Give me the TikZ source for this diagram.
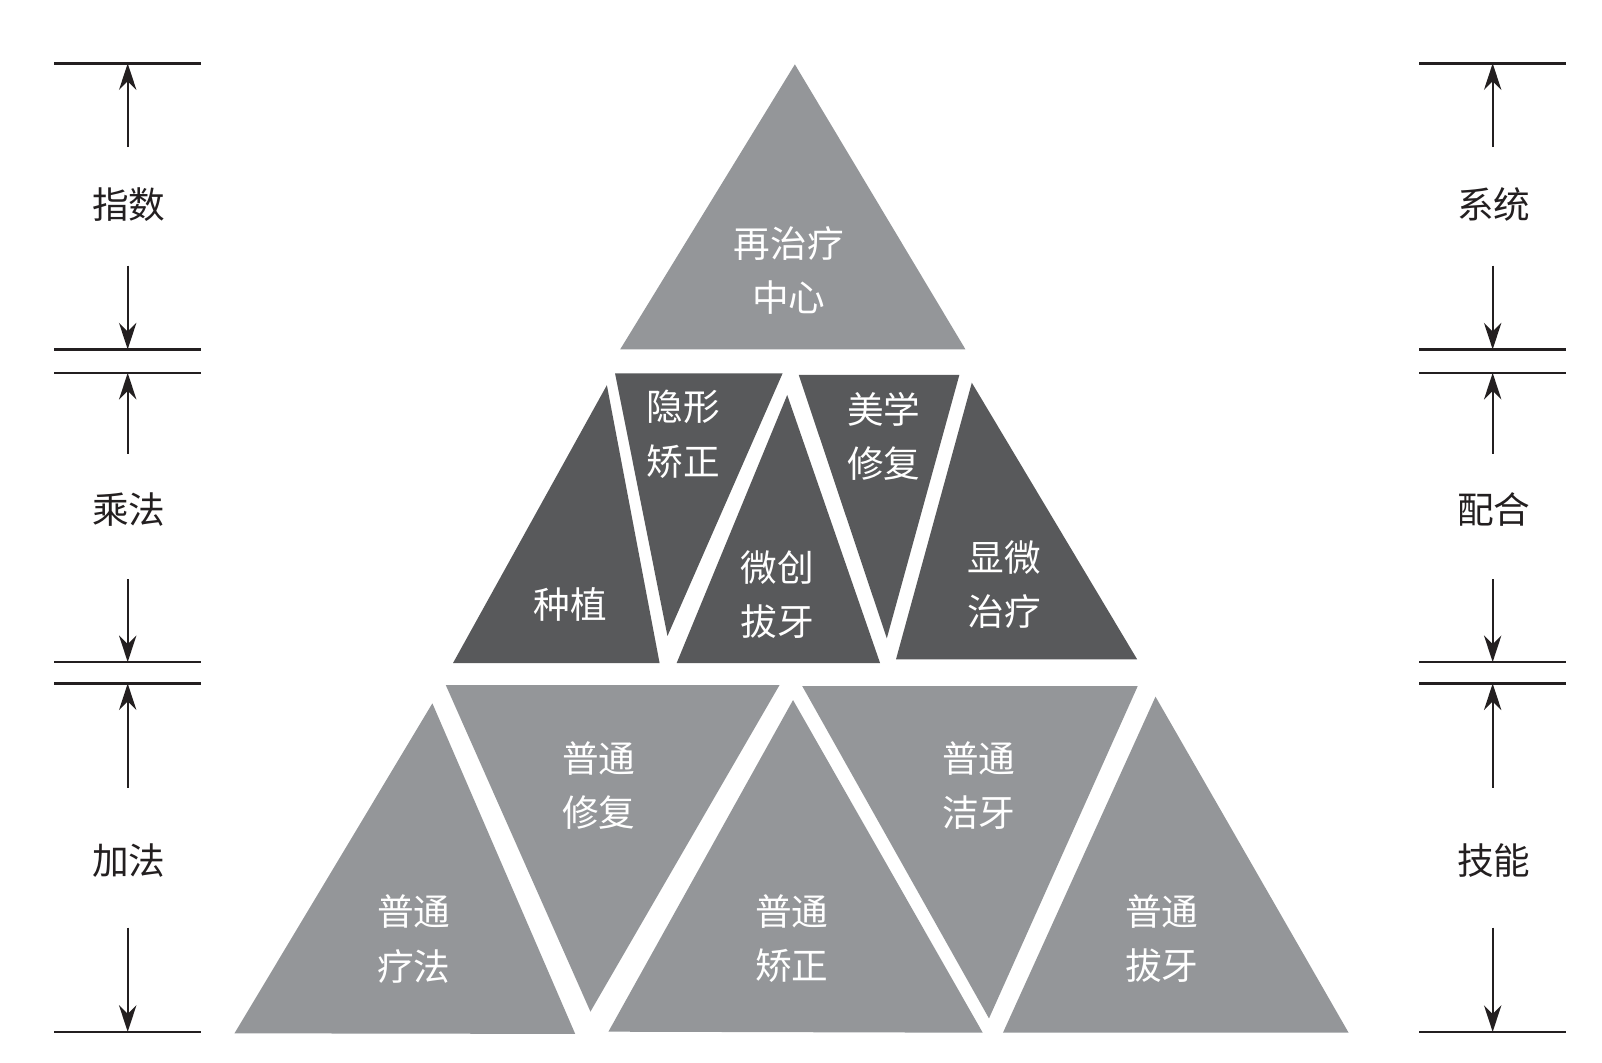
\documentclass[tikz,border=0pt]{standalone}
\usepackage{fontspec}
\setmainfont{Noto Sans CJK SC}
\usetikzlibrary{arrows.meta}
\definecolor{lightg}{RGB}{148,150,153}
\definecolor{darkg}{RGB}{88,89,91}
\definecolor{inkc}{RGB}{35,31,32}
\tikzset{
  lt/.style={fill=lightg},
  dk/.style={fill=darkg},
  lab/.style={text=white, align=center, inner sep=0pt, font=\fontsize{10.2pt}{15.1pt}\selectfont},
  side/.style={text=inkc, inner sep=0pt, font=\fontsize{10.2pt}{15.1pt}\selectfont},
  rule/.style={draw=inkc, line width=0.65pt},
  dim/.style={draw=inkc, line width=0.5pt, -{Stealth[length=0.26cm,width=0.17cm]}}
}
\begin{document}
\begin{tikzpicture}[x=0.01cm,y=-0.01cm]
\useasboundingbox (0,0) rectangle (1568,1040);
% top
\fill[lt] (778,63) -- (607,342) -- (945,342) -- cycle;
% middle row
\fill[dk] (594,377) -- (443.4,649) -- (645.6,649) -- cycle;
\fill[dk] (602,365.4) -- (766,365.4) -- (653.3,622.5) -- cycle;
\fill[dk] (770.5,386.6) -- (662.3,649) -- (861.4,649) -- cycle;
\fill[dk] (781.8,367) -- (939,367) -- (868,624.8) -- cycle;
\fill[dk] (951.2,374.6) -- (877,645.3) -- (1113,645.3) -- cycle;
% bottom row
\fill[lt] (423.2,688.4) -- (229.5,1011.4) -- (563,1012) -- cycle;
\fill[lt] (436.3,670.5) -- (763,670.5) -- (577.9,990.2) -- cycle;
\fill[lt] (776.2,685.2) -- (595.5,1009.8) -- (961.9,1010.8) -- cycle;
\fill[lt] (785.2,671.5) -- (1113.6,671.5) -- (968,996.8) -- cycle;
\fill[lt] (1131,681.9) -- (981.7,1010.8) -- (1320,1010.8) -- cycle;
% labels
\node[lab] (t1) at (772,265) {再治疗\\中心};
\node[lab] (m1) at (669,425) {隐形\\矫正};
\node[lab] (m2) at (558,592) {种植};
\node[lab] (m3) at (761,582) {微创\\拔牙};
\node[lab] (m4) at (865,427) {美学\\修复};
\node[lab] (m5) at (983,572) {显微\\治疗};
\node[lab] (b1) at (586,769) {普通\\修复};
\node[lab] (b2) at (405,919) {普通\\疗法};
\node[lab] (b3) at (775,919) {普通\\矫正};
\node[lab] (b4) at (958,769) {普通\\洁牙};
\node[lab] (b5) at (1137,919) {普通\\拔牙};
% side scales
\foreach \cx/\lx/\rx/\nm in {125/53/197/L, 1461/1389/1533/R}{
  \coordinate (\nm y1) at (\cx,62);
  \coordinate (\nm y2) at (\cx,342);
  \coordinate (\nm y3) at (\cx,365);
  \coordinate (\nm y4) at (\cx,648);
  \coordinate (\nm y5) at (\cx,669);
  \coordinate (\nm y6) at (\cx,1010);
  \foreach \yy in {62,342,365,648,669,1010}{
    \draw[rule] (\lx,\yy) -- (\rx,\yy);
  }
  \coordinate (\nm a1) at (\cx,144);
  \coordinate (\nm a2) at (\cx,260);
  \coordinate (\nm a3) at (\cx,444);
  \coordinate (\nm a4) at (\cx,567);
  \coordinate (\nm a5) at (\cx,771);
  \coordinate (\nm a6) at (\cx,908);
  \draw[dim] (\nm a1) -- (\nm y1);
  \draw[dim] (\nm a2) -- (\nm y2);
  \draw[dim] (\nm a3) -- (\nm y3);
  \draw[dim] (\nm a4) -- (\nm y4);
  \draw[dim] (\nm a5) -- (\nm y5);
  \draw[dim] (\nm a6) -- (\nm y6);
}
\node[side] (s1) at (126,200) {指数};
\node[side] (s2) at (126,499) {乘法};
\node[side] (s3) at (126,842) {加法};
\node[side] (s4) at (1462,200) {系统};
\node[side] (s5) at (1462,499) {配合};
\node[side] (s6) at (1462,842) {技能};
\end{tikzpicture}
\end{document}
